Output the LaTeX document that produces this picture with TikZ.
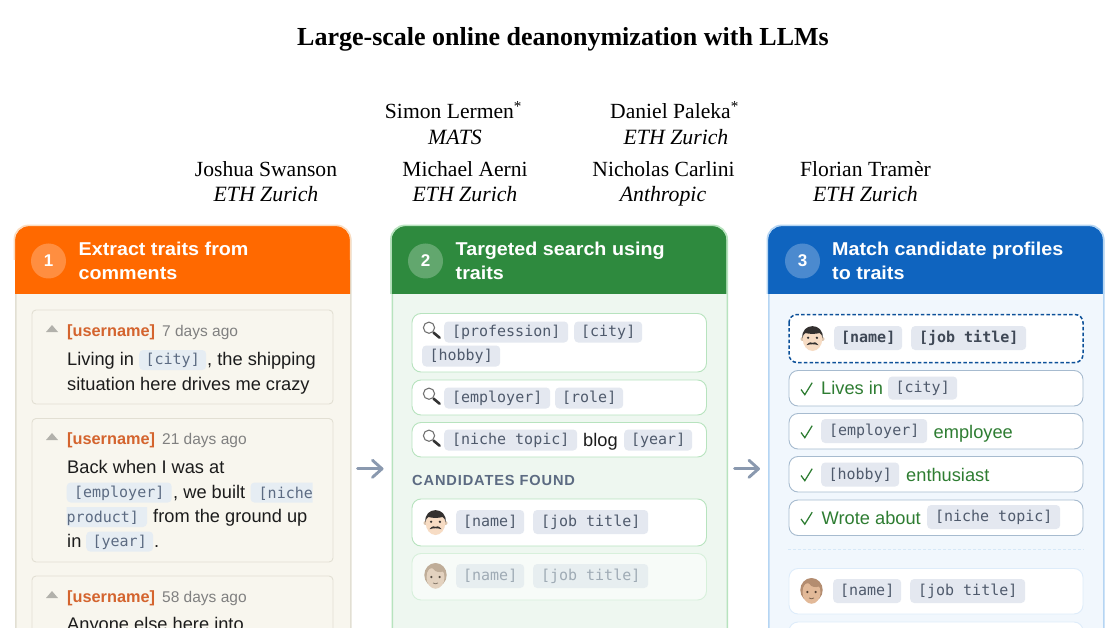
\documentclass[tikz,border=0pt]{standalone}
\usepackage{fontspec}
\usetikzlibrary{calc}
\setmainfont{Liberation Serif}
\setmonofont{DejaVu Sans Mono}
\newfontfamily\ui{Liberation Sans}
\newfontfamily\uiwide[FakeStretch=1.06]{Liberation Sans}
\newfontfamily\uispaced[LetterSpace=6]{Liberation Sans}
\definecolor{orangehead}{HTML}{FF6900}
\definecolor{greenhead}{HTML}{2E8A3E}
\definecolor{bluehead}{HTML}{0F64BF}
\definecolor{orangeedge}{HTML}{FBDCC0}
\definecolor{greenedge}{HTML}{B7E3BE}
\definecolor{blueedge}{HTML}{B5D5F3}
\definecolor{sandbody}{HTML}{F8F6EE}
\definecolor{sandedge}{HTML}{E2DFD3}
\definecolor{mintbody}{HTML}{EEF7F0}
\definecolor{skybody}{HTML}{F1F7FD}
\definecolor{ink}{HTML}{1C1C1C}
\definecolor{chipbg}{HTML}{E4E8F0}
\definecolor{chipink}{HTML}{4F5A6C}
\definecolor{softchipbg}{HTML}{E6EDF3}
\definecolor{softchipink}{HTML}{5C6B82}
\definecolor{fadedchip}{HTML}{E7EEF0}
\definecolor{fadedink}{HTML}{9FABB5}
\definecolor{arrowgrey}{HTML}{8A99AF}
\definecolor{okgreen}{HTML}{2E7D32}
\definecolor{userorange}{HTML}{D4642E}
\definecolor{skinlight}{HTML}{F7DCC4}
\definecolor{hairdark}{HTML}{33302F}
\definecolor{skintan}{HTML}{E2B998}
\definecolor{hairtan}{HTML}{B48D70}
\definecolor{skinpale}{HTML}{E3D2BF}
\definecolor{hairpale}{HTML}{BFAD98}
\tikzset{
  x=1pt,y=-1pt,
  panel/.style={draw=#1,line width=1.6pt,rounded corners=14pt,anchor=north west,
    minimum width=335pt,minimum height=440pt,inner sep=0pt},
  stepnum/.style={circle,fill=white,fill opacity=.25,minimum size=35pt,inner sep=0pt},
  stepdigit/.style={font=\ui\bfseries\fontsize{17}{20}\selectfont,text=white},
  headtext/.style={font=\uiwide\bfseries\fontsize{18.6}{24}\selectfont,text=white,anchor=base west,inner sep=0pt},
  card/.style={fill=sandbody,draw=sandedge,line width=.9pt,rounded corners=4pt},
  qbox/.style={fill=white,draw=#1,line width=.9pt,rounded corners=9pt},
  dashbox/.style={fill=white,draw=bluehead!80!black,line width=1.5pt,dash pattern=on 3.5pt off 2.2pt,rounded corners=8pt},
  title/.style={font=\bfseries\fontsize{26}{30}\selectfont,anchor=base,inner sep=0pt},
  author/.style={font=\fontsize{21.6}{25}\selectfont,anchor=base,inner sep=0pt,text=black},
  affil/.style={font=\itshape\fontsize{21.8}{25}\selectfont,anchor=base,inner sep=0pt,text=black},
  user/.style={font=\ui\bfseries\fontsize{16.3}{18}\selectfont,text=userorange,anchor=base west,inner sep=0pt},
  ago/.style={font=\ui\fontsize{15.5}{18}\selectfont,text=black!50,anchor=base west,inner sep=0pt},
  body/.style={font=\ui\fontsize{18.25}{22}\selectfont,text=ink,anchor=base west,inner sep=0pt},
  chiptext/.style={font=\ttfamily\fontsize{15}{18}\selectfont,text=#1,inner sep=0pt},
  chip/.style={fill=chipbg,rounded corners=4pt,anchor=west,minimum height=21pt,inner sep=0pt,
    text height=12.4pt,text depth=3pt,
    font=\ttfamily\fontsize{15}{18}\selectfont,text=chipink},
  softchip/.style={chip,fill=softchipbg,text=softchipink},
  fadechip/.style={chip,fill=fadedchip,text=fadedink},
  strongchip/.style={chip,fill=chipbg,text=chipink!80!black,font=\ttfamily\bfseries\fontsize{15}{18}\selectfont},
  okline/.style={font=\ui\fontsize{18.25}{22}\selectfont,text=okgreen,anchor=base west,inner sep=0pt},
  sectionlabel/.style={font=\uispaced\bfseries\fontsize{14.6}{18}\selectfont,text=softchipink,anchor=base west,inner sep=0pt},
  flow/.style={draw=arrowgrey,line width=2.9pt,line cap=round,line join=round},
  headedge/.style={draw=#1,line width=1.6pt,rounded corners=14pt},
}
% Man with short dark hair and a moustache
\newcommand{\manicon}[2]{%
  \begin{scope}[shift={(#1,#2)}]
    \fill[skinlight!88!black] (-10,1) circle (2) (10,1) circle (2);
    \fill[skinlight] (0,0.8) ellipse (9.8 and 12.2);
    \fill[hairdark] (-10.2,0.5) .. controls (-11.8,-16) and (11.8,-16) .. (10.2,0.5)
      .. controls (9.5,-2) and (9,-4.5) .. (7,-5)
      .. controls (3,-3.8) and (-3,-3.8) .. (-7,-5)
      .. controls (-9,-4.5) and (-9.5,-2) .. (-10.2,0.5) -- cycle;
    \fill[hairdark] (-4.4,-0.2) circle (1.3) (4.4,-0.2) circle (1.3);
    \fill[hairdark] (-6,7.2) .. controls (-3.5,3.6) and (-1,4) .. (0,4.8) .. controls (1,4) and (3.5,3.6) .. (6,7.2) .. controls (2,5.9) and (-2,5.9) .. (-6,7.2) -- cycle;
  \end{scope}}
% Person with a fuller head of hair
\newcommand{\hairicon}[4]{%
  \begin{scope}[shift={(#1,#2)}]
    \fill[#4] (0,-1) ellipse (11.2 and 12);
    \fill[#3] (0,1.2) ellipse (9 and 11.6);
    \fill[#4] (-9.8,0) .. controls (-9,-8) and (-3,-9) .. (-2,-7)
      .. controls (0,-3.5) and (5,-3.5) .. (7,-4.5)
      .. controls (9,-4) and (9.6,-2) .. (9.8,0)
      .. controls (12,-16) and (-12,-16) .. (-9.8,0) -- cycle;
    \fill[#4!45!black] (-4.1,1) circle (1.25) (4.1,1) circle (1.25);
    \draw[#4!70!black,line width=.8pt] (-2.5,7) .. controls (-1,8) and (1,8) .. (2.5,7);
  \end{scope}}
% Magnifying glass
\newcommand{\lens}[2]{%
  \begin{scope}[shift={(#1,#2)}]
    \draw[black!80,line width=2.6pt,line cap=round] (4.6,5) -- (10.6,10);
    \fill[white] (0,0) circle (5.6);
    \draw[black!55,line width=1.1pt] (0,0) circle (5.6);
  \end{scope}}
% Tick mark
\newcommand{\tick}[2]{\draw[okgreen,line width=1.25pt] (#1,#2) -- ++(3.8,5.2) -- ++(7.4,-12);}
\begin{document}
\begin{tikzpicture}
\useasboundingbox (0,0) rectangle (1116,628);
\clip (0,0) rectangle (1116,628);
\fill[white] (0,0) rectangle (1116,628);

% Title and authors
\node (ttl) [title] at (563,46) {Large-scale online deanonymization with LLMs};
\node (a1) [author] at (453.5,119) {Simon Lermen\textsuperscript{*}};
\node (a1b) [affil] at (455,145) {MATS};
\node (a2) [author] at (674.5,119) {Daniel Paleka\textsuperscript{*}};
\node (a2b) [affil] at (676,145) {ETH Zurich};
\node (a3) [author] at (266,177) {Joshua Swanson};
\node (a3b) [affil] at (266,202) {ETH Zurich};
\node (a4) [author] at (465,177) {Michael Aerni};
\node (a4b) [affil] at (465,202) {ETH Zurich};
\node (a5) [author] at (663.5,177) {Nicholas Carlini};
\node (a5b) [affil] at (663,202) {Anthropic};
\node (a6) [author] at (865.5,177) {Florian Tramèr};
\node (a6b) [affil] at (865.5,202) {ETH Zurich};

% Three panels
\node (p1) [panel=sandedge,fill=sandbody] at (15,226) {};
\node (p2) [panel=greenedge,fill=mintbody] at (391.5,226) {};
\node (p3) [panel=blueedge,fill=skybody] at (768,226) {};

% Coloured panel headers
\fill[orangehead,rounded corners=14pt] (15,294) -- (15,226) -- (350,226) [sharp corners] -- (350,294) -- cycle;
\fill[greenhead,rounded corners=14pt] (391.5,294) -- (391.5,226) -- (726.5,226) [sharp corners] -- (726.5,294) -- cycle;
\fill[bluehead,rounded corners=14pt] (768,294) -- (768,226) -- (1103,226) [sharp corners] -- (1103,294) -- cycle;
\draw[headedge=orangeedge] (14.4,260) -- (14.4,225.4) -- (350.6,225.4) -- (350.6,260);
\draw[headedge=greenedge] (390.9,294) -- (390.9,225.4) -- (727.1,225.4) -- (727.1,294);
\draw[headedge=blueedge] (767.4,294) -- (767.4,225.4) -- (1103.6,225.4) -- (1103.6,294);

\node (n1) [stepnum] at (48.5,261) {};
\node (n1d) [stepdigit] at (48.5,261) {1};
\node (h1a) [headtext] at (78.5,255.5) {Extract traits from};
\node (h1b) [headtext] at (78.5,279.5) {comments};
\node (n2) [stepnum] at (425.5,261) {};
\node (n2d) [stepdigit] at (425.5,261) {2};
\node (h2a) [headtext] at (455.5,255.5) {Targeted search using};
\node (h2b) [headtext] at (455.5,279.5) {traits};
\node (n3) [stepnum] at (802.5,261) {};
\node (n3d) [stepdigit] at (802.5,261) {3};
\node (h3a) [headtext] at (832,255.5) {Match candidate profiles};
\node (h3b) [headtext] at (832,279.5) {to traits};

% Comment cards
\draw[card] (32,310) rectangle (333,404);
\draw[card] (32,418.5) rectangle (333,562);
\draw[card] (32,576) rectangle (333,650);
\fill[black!28!sandbody] (46,332) -- (52,325) -- (58,332) -- cycle;
\fill[black!28!sandbody] (46,440) -- (52,433) -- (58,440) -- cycle;
\fill[black!28!sandbody] (46,598) -- (52,591) -- (58,598) -- cycle;

\node (u1) [user] at (67,336) {[username]};
\node (d1) [ago] at (162,336) {7 days ago};
\node (t1a) [body] at (67,365) {Living in};
\node (k1) [softchip,minimum width=67pt,minimum height=20pt] at (139,360) {[city]};
\node (t1b) [body] at (207,365) {, the shipping};
\node (t1c) [body] at (67,390) {situation here drives me crazy};

\node (u2) [user] at (67,444) {[username]};
\node (d2) [ago] at (162,444) {21 days ago};
\node (t2a) [body] at (67,473) {Back when I was at};
\node (k2) [softchip,minimum width=105pt,minimum height=20pt] at (66.5,492.5) {[employer]};
\node (t2b) [body] at (173,498) {, we built};
\fill[softchipbg] (312.5,482.5) -- (255,482.5) [rounded corners=4pt] -- (250.5,482.5) -- (250.5,502.5) [sharp corners] -- (312.5,502.5) -- cycle;
\node (k3) [chiptext=softchipink,anchor=base west] at (258.5,498) {[niche};
\fill[softchipbg] (66.5,507) -- (147,507) [rounded corners=4pt] -- (147,527) -- (66.5,527) [sharp corners] -- cycle;
\node (k4) [chiptext=softchipink,anchor=base west] at (66.5,522.5) {product]};
\node (t2c) [body] at (153,522.5) {from the ground up};
\node (t2d) [body] at (67,547) {in};
\node (k5) [softchip,minimum width=67pt,minimum height=20pt] at (86,541.5) {[year]};
\node (t2e) [body] at (154,547) {.};

\node (u3) [user] at (67,602) {[username]};
\node (d3) [ago] at (162,602) {58 days ago};
\node (t3a) [body] at (67,630) {Anyone else here into};

% Search queries and found candidates
\draw[qbox=greenedge] (412,313.5) rectangle (706.5,372);
\draw[qbox=greenedge] (412,380) rectangle (706.5,415);
\draw[qbox=greenedge] (412,422.5) rectangle (706.5,457);
\lens{429}{327.7}
\lens{429}{393.7}
\lens{429}{435.7}
\node (q1) [chip,minimum width=124pt] at (444,332) {[profession]};
\node (q2) [chip,minimum width=68pt] at (574,332) {[city]};
\node (q3) [chip,minimum width=78pt] at (422,356) {[hobby]};
\node (q4) [chip,minimum width=106pt] at (444,398) {[employer]};
\node (q5) [chip,minimum width=68pt] at (555,398) {[role]};
\node (q6) [chip,minimum width=133pt] at (444,440) {[niche topic]};
\node (q7) [body] at (583,446) {blog};
\node (q8) [chip,minimum width=68pt] at (624,440) {[year]};
\node (found) [sectionlabel] at (412,485) {CANDIDATES FOUND};
\draw[qbox=greenedge] (412,499) rectangle (706.5,546);
\draw[qbox=greenedge!55!white,fill=white,fill opacity=.55] (412,553.5) rectangle (706.5,600);
\manicon{435.5}{522}
\node (c1) [chip,minimum width=68pt,minimum height=24pt] at (456,522) {[name]};
\node (c2) [chip,minimum width=115pt,minimum height=24pt] at (533,522) {[job title]};
\hairicon{435.5}{576}{skinpale}{hairpale}
\node (c3) [fadechip,minimum width=68pt,minimum height=24pt] at (456,576) {[name]};
\node (c4) [fadechip,minimum width=115pt,minimum height=24pt] at (533,576) {[job title]};

% Matching checks
\draw[dashbox] (789,314.5) rectangle (1083,362.5);
\manicon{812.5}{338}
\node (m1) [strongchip,minimum width=68pt,minimum height=24pt] at (834,338) {[name]};
\node (m2) [strongchip,minimum width=115pt,minimum height=24pt] at (911,338) {[job title]};
\draw[qbox=blueedge!80!black!80] (789,370.5) rectangle (1083,406);
\draw[qbox=blueedge!80!black!80] (789,413.5) rectangle (1083,449);
\draw[qbox=blueedge!80!black!80] (789,456.5) rectangle (1083,492);
\draw[qbox=blueedge!80!black!80] (789,500) rectangle (1083,535.5);
\tick{801}{389.5}
\tick{801}{432.5}
\tick{801}{475.5}
\tick{801}{519}
\node (r1) [okline] at (821,394) {Lives in};
\node (r2) [chip,minimum width=69pt,minimum height=23pt] at (888,388) {[city]};
\node (r3) [chip,minimum width=106pt,minimum height=24pt] at (821,431) {[employer]};
\node (r4) [okline] at (933.5,438) {employee};
\node (r5) [chip,minimum width=78pt,minimum height=24pt] at (821,474.5) {[hobby]};
\node (r6) [okline] at (906,481) {enthusiast};
\node (r7) [okline] at (821.5,524) {Wrote about};
\node (r8) [chip,minimum width=133pt,minimum height=24pt] at (927,517) {[niche topic]};
\draw[blueedge!55!white,line width=.8pt,dash pattern=on 3pt off 2pt] (788,549.5) -- (1084,549.5);
\draw[qbox=blueedge!45!white] (789,568.5) rectangle (1083,614);
\hairicon{811.5}{591}{skintan}{hairtan}
\node (s1) [chip,minimum width=68pt,minimum height=24pt] at (833,591) {[name]};
\node (s2) [chip,minimum width=115pt,minimum height=24pt] at (910,591) {[job title]};
\draw[qbox=blueedge!45!white] (789,622) rectangle (1083,668);

% Flow between the panels
\draw[flow] ([shift={(6,22)}]p1.east) -- ([shift={(-9.5,22)}]p2.west);
\draw[flow] ([shift={(-19,13.5)}]p2.west) -- ([shift={(-9.5,22)}]p2.west) -- ([shift={(-19,30.5)}]p2.west);
\draw[flow] ([shift={(6.5,22)}]p2.east) -- ([shift={(-9.5,22)}]p3.west);
\draw[flow] ([shift={(-19,13.5)}]p3.west) -- ([shift={(-9.5,22)}]p3.west) -- ([shift={(-19,30.5)}]p3.west);
\end{tikzpicture}
\end{document}
